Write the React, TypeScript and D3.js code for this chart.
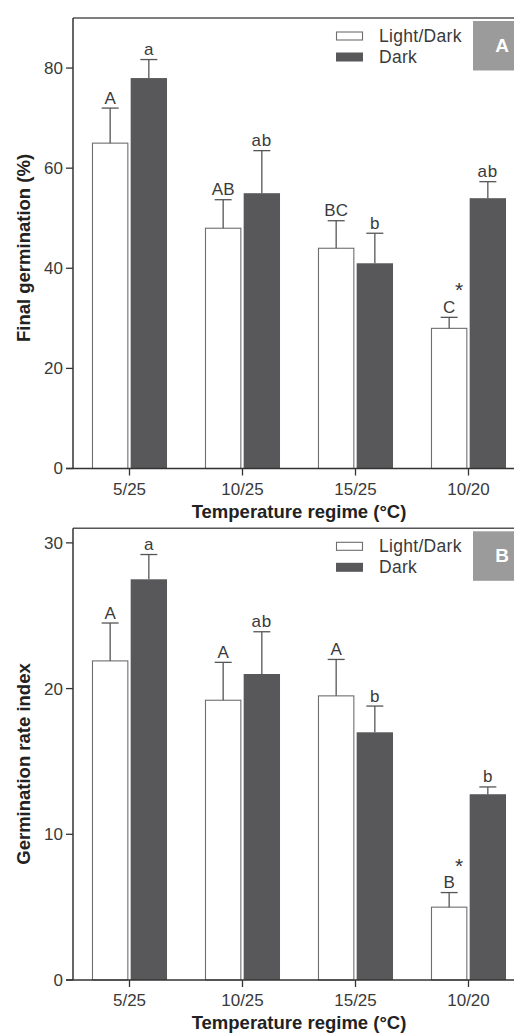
import * as d3 from 'd3';
import React from 'react';

const categories = ['5/25', '10/25', '15/25', '10/20'];
const seriesNames = ['Light/Dark', 'Dark'];

// panel A: final germination (%)
const finalLight = [65, 48, 44, 28];
const finalLightErr = [7, 5.7, 5.5, 2.2];
const finalDark = [78, 55, 41, 54];
const finalDarkErr = [3.7, 8.5, 6, 3.3];
const finalLightLetters = ['A', 'AB', 'BC', 'C'];
const finalDarkLetters = ['a', 'ab', 'b', 'ab'];
const finalTicks = [0, 20, 40, 60, 80];

// panel B: germination rate index
const rateLight = [21.9, 19.2, 19.5, 5.0];
const rateLightErr = [2.6, 2.6, 2.5, 1.0];
const rateDark = [27.5, 21.0, 17.0, 12.75];
const rateDarkErr = [1.7, 2.9, 1.8, 0.5];
const rateLightLetters = ['A', 'A', 'A', 'B'];
const rateDarkLetters = ['a', 'ab', 'b', 'b'];
const rateTicks = [0, 10, 20, 30];

// significant difference between light and dark
const starred = ['10/20'];

const FONT = '"Liberation Sans", Arial, Helvetica, sans-serif';
const TEXT = '#3a3a3a';
const DARK = '#58585a';

interface PanelProps {
  top: number;
  bottom: number;
  yMax: number;
  ticks: number[];
  light: number[];
  lightErr: number[];
  dark: number[];
  darkErr: number[];
  lightLetters: string[];
  darkLetters: string[];
  yLabel: string;
  yLabelY: number;
  tag: string;
}

function Panel(p: PanelProps) {
  const left = 73;
  const x = d3.scaleBand<string>().domain(categories).range([left, 525]).paddingInner(0.336).paddingOuter(0.168);
  const x1 = d3.scaleBand<string>().domain(seriesNames).range([0, x.bandwidth()]).paddingInner(0.06);
  const y = d3.scaleLinear().domain([0, p.yMax]).range([p.bottom, p.top]);

  const rows = categories.map((c, i) => [
    { c, s: seriesNames[0], v: p.light[i], e: p.lightErr[i], lab: p.lightLetters[i] },
    { c, s: seriesNames[1], v: p.dark[i], e: p.darkErr[i], lab: p.darkLetters[i] },
  ]).flat();

  const bw = x1.bandwidth();
  const plotMid = (left + 525) / 2;

  return (
    <g fontFamily={FONT}>
      {/* bars */}
      {rows.map((d, i) => {
        const bx = (x(d.c) ?? 0) + (x1(d.s) ?? 0);
        const isLight = d.s === seriesNames[0];
        const yt = y(d.v);
        const yc = y(d.v + d.e);
        const cx = bx + bw / 2;
        return (
          <g key={i}>
            <rect
              x={isLight ? bx + 0.5 : bx}
              y={yt}
              width={isLight ? bw - 1 : bw}
              height={p.bottom - yt}
              fill={isLight ? '#fff' : DARK}
              stroke={isLight ? '#6e6e6e' : 'none'}
              strokeWidth={1.1}
            />
            <line x1={cx} x2={cx} y1={yt} y2={yc} stroke="#555" strokeWidth={1.3} />
            <line x1={cx - 8.5} x2={cx + 8.5} y1={yc} y2={yc} stroke="#555" strokeWidth={1.3} />
            <text x={cx} y={yc - 4.5} textAnchor="middle" fontSize={17} fill={TEXT} letterSpacing={d.lab === 'ab' ? 1 : 0}>
              {d.lab}
            </text>
            {isLight && starred.includes(d.c) && (
              <text x={cx + 10} y={yc - 20} textAnchor="middle" fontSize={21} fill="#333">
                *
              </text>
            )}
          </g>
        );
      })}

      {/* frame: top line + y axis */}
      <line x1={left} x2={514} y1={p.top} y2={p.top} stroke="#555" strokeWidth={1.5} />
      <line x1={left} x2={left} y1={p.top} y2={p.bottom} stroke="#333" strokeWidth={1.5} />
      <line x1={left - 7} x2={514} y1={p.bottom} y2={p.bottom} stroke="#333" strokeWidth={1.5} />

      {/* y ticks */}
      {p.ticks.map((t) => (
        <g key={t}>
          <line x1={left - 7} x2={left} y1={y(t)} y2={y(t)} stroke="#333" strokeWidth={1.3} />
          <text x={63} y={y(t)} dy="0.35em" textAnchor="end" fontSize={17} fill={TEXT}>
            {t}
          </text>
        </g>
      ))}

      {/* x ticks */}
      {categories.map((c) => {
        const cx = (x(c) ?? 0) + x.bandwidth() / 2;
        return (
          <g key={c}>
            <line x1={cx} x2={cx} y1={p.bottom} y2={p.bottom + 7} stroke="#333" strokeWidth={1.3} />
            <text x={cx} y={p.bottom + 26} textAnchor="middle" fontSize={17} fill={TEXT}>
              {c}
            </text>
          </g>
        );
      })}

      {/* axis titles */}
      <text x={plotMid} y={p.bottom + 49} textAnchor="middle" fontSize={18.5} fontWeight="bold" fill="#222">
        Temperature regime (°C)
      </text>
      <text
        transform={`translate(30,${p.yLabelY}) rotate(-90)`}
        textAnchor="middle"
        fontSize={18.5}
        fontWeight="bold"
        fill="#222"
      >
        {p.yLabel}
      </text>

      {/* legend */}
      <rect x={336.5} y={p.top + 14} width={26} height={8} fill="#fff" stroke="#6e6e6e" strokeWidth={1.1} />
      <rect x={336} y={p.top + 34.5} width={27} height={9} fill={DARK} />
      <text x={379} y={p.top + 23.7} fontSize={17.5} letterSpacing={0.3} fill={TEXT}>
        {seriesNames[0]}
      </text>
      <text x={379} y={p.top + 44.7} fontSize={17.5} letterSpacing={0.3} fill={TEXT}>
        {seriesNames[1]}
      </text>

      {/* panel tag */}
      <rect x={473} y={p.top + 3} width={60} height={49.5} fill="#9b9b9b" />
      <text x={502} y={p.top + 27.5} dy="0.35em" textAnchor="middle" fontSize={19} fontWeight="bold" fill="#fff">
        {p.tag}
      </text>
    </g>
  );
}

export default function App() {
  return (
    <svg
      width={514}
      height={1033}
      style={{ position: 'absolute', left: 0, top: 0, background: '#fff' }}
    >
      <rect width={514} height={1033} fill="#fff" />
      <Panel
        top={18}
        bottom={468.5}
        yMax={90}
        ticks={finalTicks}
        light={finalLight}
        lightErr={finalLightErr}
        dark={finalDark}
        darkErr={finalDarkErr}
        lightLetters={finalLightLetters}
        darkLetters={finalDarkLetters}
        yLabel="Final germination (%)"
        yLabelY={248}
        tag="A"
      />
      <Panel
        top={528.3}
        bottom={980}
        yMax={31}
        ticks={rateTicks}
        light={rateLight}
        lightErr={rateLightErr}
        dark={rateDark}
        darkErr={rateDarkErr}
        lightLetters={rateLightLetters}
        darkLetters={rateDarkLetters}
        yLabel="Germination rate index"
        yLabelY={764}
        tag="B"
      />
    </svg>
  );
}
